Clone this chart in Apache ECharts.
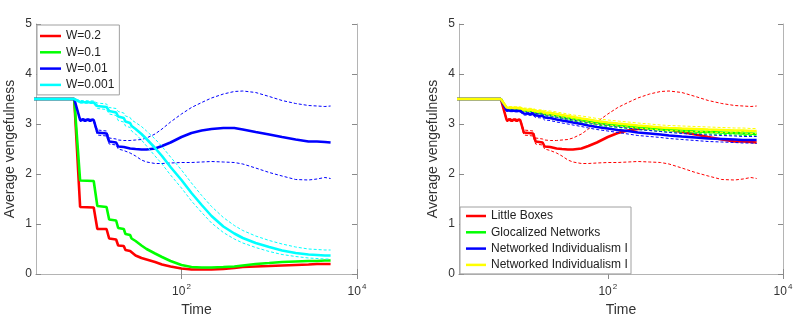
<!DOCTYPE html>
<html>
<head>
<meta charset="utf-8">
<script src="https://cdn.jsdelivr.net/npm/echarts@6/dist/echarts.min.js"></script>
<style>
  html, body { margin: 0; padding: 0; background: #fff; }
  #chart { width: 800px; height: 322px; }
</style>
</head>
<body>
<div id="chart"></div>
<script>
// Sample times (simulation steps), shared by every curve
const time = [1, 6, 7, 10, 11, 14, 15, 18, 19, 22, 23, 26, 27, 30, 35, 40, 50, 60, 75, 100,
  130, 170, 220, 300, 400, 500, 700, 1000, 1400, 2000, 2800, 3500, 4300, 5000];

// Left panel: mean vengefulness for each W, with spread bounds where visible
const meanW02 = [3.5, 3.5, 1.34, 1.33, 0.9, 0.9, 0.71, 0.69, 0.57, 0.56, 0.48, 0.46, 0.42, 0.37, 0.32, 0.29, 0.24, 0.19, 0.15, 0.11,
  0.09, 0.09, 0.09, 0.1, 0.12, 0.14, 0.15, 0.16, 0.17, 0.18, 0.19, 0.2, 0.2, 0.2];
const meanW01 = [3.5, 3.5, 1.87, 1.86, 1.36, 1.34, 1.09, 1.07, 0.92, 0.9, 0.8, 0.78, 0.71, 0.66, 0.57, 0.5, 0.41, 0.34, 0.26, 0.18,
  0.14, 0.13, 0.13, 0.14, 0.15, 0.17, 0.2, 0.22, 0.24, 0.25, 0.26, 0.26, 0.27, 0.27];
const meanW001 = [3.5, 3.5, 3.08, 3.08, 2.83, 2.81, 2.65, 2.63, 2.55, 2.54, 2.52, 2.51, 2.5, 2.5, 2.49, 2.49, 2.51, 2.56, 2.63, 2.74,
  2.82, 2.87, 2.9, 2.92, 2.92, 2.89, 2.84, 2.79, 2.74, 2.69, 2.65, 2.65, 2.64, 2.63];
const upperW001 = [3.5, 3.5, 3.11, 3.1, 2.88, 2.86, 2.72, 2.7, 2.68, 2.67, 2.67, 2.67, 2.67, 2.68, 2.69, 2.72, 2.8, 2.9, 3.04, 3.2,
  3.33, 3.43, 3.52, 3.6, 3.65, 3.66, 3.63, 3.55, 3.47, 3.41, 3.37, 3.36, 3.35, 3.36];
const lowerW001 = [3.5, 3.5, 3.05, 3.05, 2.78, 2.76, 2.6, 2.58, 2.5, 2.47, 2.44, 2.42, 2.39, 2.36, 2.28, 2.24, 2.21, 2.21, 2.22, 2.23,
  2.23, 2.24, 2.25, 2.24, 2.23, 2.2, 2.12, 2.03, 1.96, 1.89, 1.88, 1.9, 1.93, 1.91];
const meanW0001 = [3.5, 3.5, 3.44, 3.43, 3.36, 3.34, 3.26, 3.23, 3.15, 3.12, 3.05, 3.02, 2.96, 2.9, 2.8, 2.7, 2.52, 2.36, 2.14, 1.88,
  1.62, 1.38, 1.16, 0.95, 0.81, 0.72, 0.62, 0.54, 0.47, 0.42, 0.39, 0.38, 0.37, 0.37];
const upperW0001 = [3.5, 3.5, 3.47, 3.46, 3.42, 3.4, 3.33, 3.31, 3.25, 3.22, 3.16, 3.13, 3.08, 3.03, 2.95, 2.86, 2.7, 2.55, 2.34, 2.08,
  1.82, 1.57, 1.35, 1.13, 0.97, 0.87, 0.76, 0.67, 0.6, 0.54, 0.5, 0.49, 0.48, 0.48];
const lowerW0001 = [3.5, 3.5, 3.42, 3.41, 3.31, 3.29, 3.2, 3.17, 3.07, 3.04, 2.96, 2.93, 2.86, 2.8, 2.68, 2.56, 2.36, 2.2, 1.98, 1.72,
  1.46, 1.23, 1.02, 0.83, 0.7, 0.62, 0.53, 0.45, 0.39, 0.35, 0.32, 0.31, 0.3, 0.3];

// Right panel: network types (Little Boxes runs with W = 0.01)
const meanGlocal = [3.5, 3.5, 3.31, 3.3, 3.27, 3.26, 3.23, 3.22, 3.2, 3.19, 3.18, 3.17, 3.16, 3.14, 3.12, 3.1, 3.07, 3.05, 3.02, 2.99,
  2.97, 2.95, 2.93, 2.91, 2.89, 2.88, 2.87, 2.85, 2.84, 2.83, 2.82, 2.81, 2.81, 2.8];
const upperGlocal = [3.5, 3.5, 3.33, 3.32, 3.3, 3.29, 3.27, 3.26, 3.24, 3.23, 3.22, 3.21, 3.2, 3.18, 3.16, 3.14, 3.11, 3.09, 3.06, 3.03,
  3.01, 2.99, 2.97, 2.95, 2.93, 2.92, 2.91, 2.89, 2.88, 2.87, 2.86, 2.85, 2.85, 2.84];
const lowerGlocal = [3.5, 3.5, 3.29, 3.28, 3.24, 3.23, 3.19, 3.18, 3.16, 3.15, 3.14, 3.13, 3.12, 3.1, 3.08, 3.06, 3.03, 3.01, 2.98, 2.95,
  2.93, 2.91, 2.89, 2.87, 2.85, 2.84, 2.83, 2.81, 2.8, 2.79, 2.78, 2.77, 2.77, 2.76];
const meanNetI = [3.5, 3.5, 3.27, 3.26, 3.21, 3.2, 3.17, 3.16, 3.13, 3.12, 3.1, 3.09, 3.08, 3.07, 3.05, 3.03, 3.0, 2.97, 2.94, 2.91,
  2.88, 2.86, 2.83, 2.81, 2.79, 2.77, 2.75, 2.73, 2.71, 2.7, 2.69, 2.68, 2.68, 2.68];
const upperNetI = [3.5, 3.5, 3.29, 3.28, 3.24, 3.23, 3.21, 3.2, 3.18, 3.17, 3.15, 3.14, 3.13, 3.12, 3.1, 3.08, 3.05, 3.03, 3.0, 2.97,
  2.94, 2.92, 2.89, 2.87, 2.85, 2.83, 2.81, 2.79, 2.78, 2.77, 2.76, 2.75, 2.75, 2.75];
const lowerNetI = [3.5, 3.5, 3.25, 3.24, 3.18, 3.17, 3.13, 3.12, 3.08, 3.07, 3.05, 3.04, 3.03, 3.02, 3.0, 2.98, 2.95, 2.92, 2.89, 2.86,
  2.83, 2.8, 2.77, 2.75, 2.73, 2.71, 2.69, 2.67, 2.65, 2.64, 2.63, 2.62, 2.62, 2.61];
const meanNetII = [3.5, 3.5, 3.33, 3.32, 3.29, 3.28, 3.26, 3.25, 3.23, 3.22, 3.21, 3.2, 3.19, 3.18, 3.16, 3.14, 3.11, 3.09, 3.06, 3.03,
  3.01, 2.99, 2.97, 2.95, 2.93, 2.92, 2.91, 2.9, 2.89, 2.88, 2.87, 2.87, 2.86, 2.86];
const upperNetII = [3.5, 3.5, 3.35, 3.34, 3.32, 3.31, 3.29, 3.28, 3.27, 3.26, 3.25, 3.24, 3.23, 3.22, 3.2, 3.18, 3.16, 3.14, 3.11, 3.08,
  3.06, 3.04, 3.02, 3.0, 2.98, 2.97, 2.96, 2.95, 2.94, 2.93, 2.92, 2.92, 2.91, 2.91];
const lowerNetII = [3.5, 3.5, 3.31, 3.3, 3.26, 3.25, 3.23, 3.22, 3.19, 3.18, 3.17, 3.16, 3.15, 3.14, 3.12, 3.1, 3.06, 3.04, 3.01, 2.98,
  2.96, 2.94, 2.92, 2.9, 2.88, 2.87, 2.86, 2.85, 2.84, 2.83, 2.82, 2.82, 2.81, 2.81];

const leftNames = ['W=0.2', 'W=0.1', 'W=0.01', 'W=0.001'];
const rightNames = ['Little Boxes', 'Glocalized Networks', 'Networked Individualism I', 'Networked Individualism II'];
const yTicks = [0, 1, 2, 3, 4, 5];
const xTicks = [100, 10000];

const FONT = '"Liberation Sans", Arial, Helvetica, sans-serif';
const TEXT = '#333';
const AXIS = '#b4b4b4';
const TICK = '#8a8a8a';

const pair = vals => time.map((t, i) => [t, vals[i]]);

function meanSeries(name, color, vals, g) {
  return {
    name, type: 'line', xAxisIndex: g * 2, yAxisIndex: g * 2,
    data: pair(vals), symbol: 'none', color, itemStyle: { color },
    lineStyle: { color, width: 2.6 }, animation: false
  };
}
function boundSeries(name, color, vals, g) {
  return {
    name, type: 'line', xAxisIndex: g * 2, yAxisIndex: g * 2,
    data: pair(vals), symbol: 'none', color,
    lineStyle: { color, width: 1, type: [3, 2] }, animation: false
  };
}

// Decade labels drawn as 10 with a raised exponent
const decadeLabel = v => '{b|10}{s|' + Math.round(Math.log10(v)) + '}';

function xAxes(g, min) {
  const common = {
    type: 'log', gridIndex: g, logBase: 10, min, max: 10000,
    axisLine: { lineStyle: { color: AXIS, width: 1 } },
    axisTick: { inside: true, length: 5, lineStyle: { color: TICK }, customValues: xTicks },
    minorTick: { show: false }, splitLine: { show: false }
  };
  return [
    Object.assign({}, common, {
      position: 'bottom',
      name: 'Time', nameLocation: 'middle', nameGap: 29,
      nameTextStyle: { fontFamily: FONT, fontSize: 14, color: TEXT },
      axisLabel: {
        customValues: xTicks, formatter: decadeLabel, margin: 9,
        rich: {
          b: { fontFamily: FONT, fontSize: 12, color: TEXT },
          s: { fontFamily: FONT, fontSize: 8, color: TEXT, padding: [0, 0, 9, 1] }
        }
      }
    }),
    Object.assign({}, common, {
      position: 'top',
      axisLabel: { show: false }
    })
  ];
}

function yAxes(g) {
  return [
    {
      type: 'value', gridIndex: g, min: yTicks[0], max: yTicks[yTicks.length - 1], interval: 1,
      position: 'left',
      name: 'Average vengefulness', nameLocation: 'middle', nameGap: 19,
      nameTextStyle: { fontFamily: FONT, fontSize: 14, color: TEXT },
      axisLine: { show: true, lineStyle: { color: AXIS, width: 1 } },
      axisTick: { show: true, inside: true, length: 5, lineStyle: { color: TICK } },
      axisLabel: { fontFamily: FONT, fontSize: 12, color: TEXT, margin: 4 },
      splitLine: { show: false }
    },
    {
      type: 'value', gridIndex: g, min: yTicks[0], max: yTicks[yTicks.length - 1], interval: 1,
      position: 'right',
      axisLine: { show: true, lineStyle: { color: AXIS, width: 1 } },
      axisTick: { show: true, inside: true, length: 5, lineStyle: { color: TICK } },
      axisLabel: { show: false }, splitLine: { show: false }
    }
  ];
}

const legendText = { fontFamily: FONT, fontSize: 12, color: '#222', lineHeight: 14 };

const option = {
  backgroundColor: '#fff',
  animation: false,
  grid: [
    { left: 36, right: 443, top: 24, bottom: 45 },
    { left: 459, right: 17, top: 24, bottom: 45 }
  ],
  xAxis: [...xAxes(0, 2.2), ...xAxes(1, 2.0)],
  yAxis: [...yAxes(0), ...yAxes(1)],
  legend: [
    {
      data: leftNames, orient: 'vertical', left: 37, top: 25,
      icon: 'rect', itemWidth: 21, itemHeight: 2.5, itemGap: 2.3,
      padding: [4, 5, 3, 3], borderColor: '#a0a0a0', borderWidth: 1,
      backgroundColor: '#fff', selectedMode: false,
      textStyle: legendText
    },
    {
      data: rightNames, orient: 'vertical', left: 460, top: 207,
      icon: 'rect', itemWidth: 20, itemHeight: 2.5, itemGap: 2.3,
      padding: [2, 0, 2, 6], borderColor: '#a0a0a0', borderWidth: 1,
      backgroundColor: '#fff', selectedMode: false,
      textStyle: Object.assign({}, legendText, { width: 140, overflow: 'truncate', ellipsis: '' })
    }
  ],
  series: [
    // left panel
    meanSeries('W=0.2', '#ff0000', meanW02, 0),
    meanSeries('W=0.1', '#00ff00', meanW01, 0),
    meanSeries('W=0.01', '#0000ff', meanW001, 0),
    boundSeries('W=0.01 upper', '#0000ff', upperW001, 0),
    boundSeries('W=0.01 lower', '#0000ff', lowerW001, 0),
    meanSeries('W=0.001', '#00ffff', meanW0001, 0),
    boundSeries('W=0.001 upper', '#00ffff', upperW0001, 0),
    boundSeries('W=0.001 lower', '#00ffff', lowerW0001, 0),
    // right panel
    meanSeries('Little Boxes', '#ff0000', meanW001, 1),
    boundSeries('Little Boxes upper', '#ff0000', upperW001, 1),
    boundSeries('Little Boxes lower', '#ff0000', lowerW001, 1),
    meanSeries('Glocalized Networks', '#00ff00', meanGlocal, 1),
    boundSeries('Glocalized Networks upper', '#00ff00', upperGlocal, 1),
    boundSeries('Glocalized Networks lower', '#00ff00', lowerGlocal, 1),
    meanSeries('Networked Individualism I', '#0000ff', meanNetI, 1),
    boundSeries('Networked Individualism I upper', '#0000ff', upperNetI, 1),
    boundSeries('Networked Individualism I lower', '#0000ff', lowerNetI, 1),
    meanSeries('Networked Individualism II', '#ffff00', meanNetII, 1),
    boundSeries('Networked Individualism II upper', '#ffff00', upperNetII, 1),
    boundSeries('Networked Individualism II lower', '#ffff00', lowerNetII, 1)
  ]
};

const chart = echarts.init(document.getElementById('chart'), null, { renderer: 'canvas' });
chart.setOption(option);
</script>
</body>
</html>
